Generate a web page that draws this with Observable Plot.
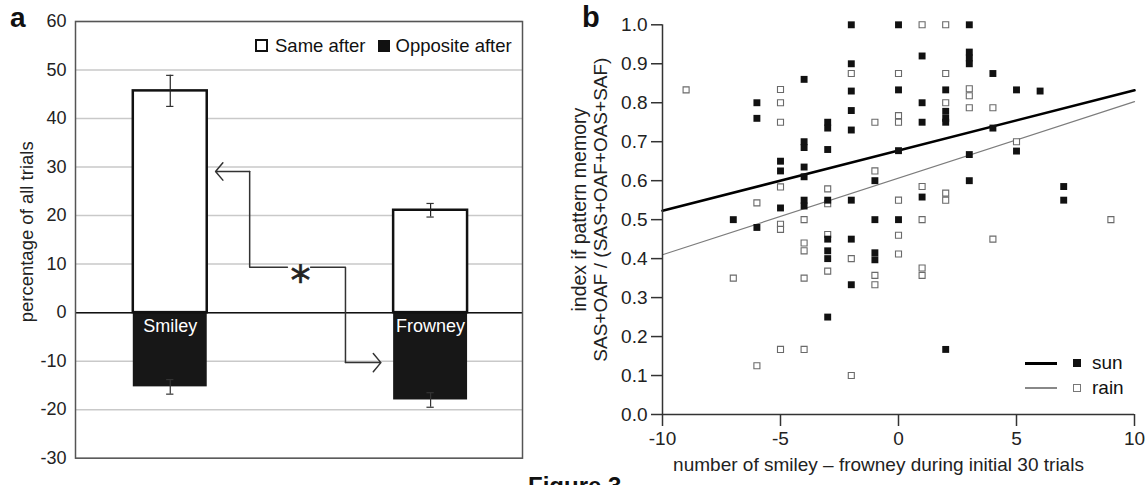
<!DOCTYPE html>
<html><head><meta charset="utf-8">
<script src="https://cdn.jsdelivr.net/npm/d3@7"></script>
<script src="https://cdn.jsdelivr.net/npm/@observablehq/plot@0.6"></script>
<style>
body{margin:0;background:#fff;font-family:"Liberation Sans",Arial,sans-serif;color:#222;}
#wrap{position:relative;width:1148px;height:485px;overflow:hidden;background:#fff;}
</style></head><body><div id="wrap"></div>
<script>
// ---------- Panel a data ----------
const categories = ["Smiley", "Frowney"];
const sameAfter = [45.7, 21.1];
const sameErr = [3.2, 1.4];
const oppositeAfter = [-15.3, -18.0];
const oppositeErr = [1.5, 1.5];
const yTicksA = [-30, -20, -10, 0, 10, 20, 30, 40, 50, 60];
const legendA = ["Same after", "Opposite after"];
const yLabelA = "percentage of all trials";
// significance bracket (x in category-index units, y in %)
const bracketLeft = [[0.305, 29.1], [0.305, 9.35], [0.45, 9.35]];
const bracketRight = [[0.539, 9.35], [0.673, 9.35], [0.673, -10.3]];
const arrowsA = [
  {x1: 0.305, y1: 29.1, x2: 0.174, y2: 29.1},
  {x1: 0.673, y1: -10.3, x2: 0.809, y2: -10.3}
];
const starA = [{x: 0.5, y: 8.5, t: "*"}];

// ---------- Panel b data ----------
const sunX = [-7,
  -6, -6, -6,
  -5, -5, -5,
  -4, -4, -4, -4, -4, -4, -4,
  -3, -3, -3, -3, -3, -3, -3, -3,
  -2, -2, -2, -2, -2, -2, -2, -2,
  -1, -1, -1, -1,
  0, 0, 0, 0,
  1, 1, 1, 1,
  2, 2, 2, 2, 2,
  3, 3, 3, 3, 3, 3,
  4, 4,
  5, 5,
  6,
  7, 7];
const sunY = [0.50,
  0.80, 0.76, 0.48,
  0.65, 0.625, 0.53,
  0.86, 0.70, 0.685, 0.635, 0.61, 0.55, 0.535,
  0.75, 0.735, 0.68, 0.55, 0.45, 0.42, 0.40, 0.25,
  1.00, 0.90, 0.83, 0.78, 0.73, 0.55, 0.45, 0.333,
  0.60, 0.50, 0.415, 0.397,
  1.00, 0.833, 0.677, 0.50,
  0.92, 0.80, 0.75, 0.558,
  0.833, 0.778, 0.76, 0.75, 0.167,
  1.00, 0.93, 0.915, 0.90, 0.667, 0.60,
  0.875, 0.735,
  0.833, 0.676,
  0.83,
  0.585, 0.55];
const rainX = [-9,
  -7,
  -6, -6,
  -5, -5, -5, -5, -5, -5, -5,
  -4, -4, -4, -4, -4,
  -3, -3, -3, -3,
  -2, -2, -2,
  -1, -1, -1, -1,
  0, 0, 0, 0, 0, 0,
  1, 1, 1, 1, 1,
  2, 2, 2, 2, 2,
  3, 3, 3,
  4, 4,
  5,
  9];
const rainY = [0.833,
  0.35,
  0.543, 0.125,
  0.834, 0.80, 0.75, 0.584, 0.488, 0.475, 0.167,
  0.50, 0.44, 0.42, 0.35, 0.167,
  0.579, 0.541, 0.462, 0.368,
  0.875, 0.40, 0.10,
  0.75, 0.625, 0.357, 0.333,
  0.875, 0.767, 0.75, 0.55, 0.46, 0.412,
  1.00, 0.585, 0.50, 0.376, 0.357,
  1.00, 0.875, 0.80, 0.568, 0.55,
  0.836, 0.818, 0.787,
  0.787, 0.45,
  0.70,
  0.50];
const fitX = [-10, 10];
const sunFit = [0.523, 0.832];
const rainFit = [0.41, 0.803];
const xTicksB = [-10, -5, 0, 5, 10];
const yTicksB = [0, 0.1, 0.2, 0.3, 0.4, 0.5, 0.6, 0.7, 0.8, 0.9, 1.0];
const seriesB = ["sun", "rain"];
const xLabelB = "number of smiley \u2013 frowney during initial 30 trials";
const yLabelB1 = "index if pattern memory";
const yLabelB2 = "SAS+OAF / (SAS+OAF+OAS+SAF)";

const FONT = "'Liberation Sans', Arial, sans-serif";
const wrap = document.getElementById("wrap");
const hyphenFmt = d => String(d);

// ---------- Panel a ----------
const tableA = categories.map((name, i) => ({
  name, i, same: sameAfter[i], sErr: sameErr[i], opp: oppositeAfter[i], oErr: oppositeErr[i]
}));
const half = 0.142, cap = 0.014;
const capsA = tableA.flatMap(d => [
  {i: d.i, y: d.same + d.sErr}, {i: d.i, y: d.same - d.sErr},
  {i: d.i, y: d.opp + d.oErr}, {i: d.i, y: d.opp - d.oErr}
]);

const plotA = Plot.plot({
  width: 530, height: 485,
  marginLeft: 75, marginRight: 8, marginTop: 21, marginBottom: 27.3,
  style: {fontFamily: FONT, color: "#222", background: "transparent", overflow: "visible"},
  x: {domain: [-0.364, 1.353], axis: null},
  y: {domain: [-30, 60], axis: null},
  marks: [
    Plot.ruleY(yTicksA, {stroke: "#c9c9c9", strokeWidth: 1.5}),
    Plot.rectY(tableA, {x1: d => d.i - half, x2: d => d.i + half, y1: 0, y2: "opp", fill: "#171717"}),
    Plot.rectY(tableA, {x1: d => d.i - half, x2: d => d.i + half, y1: 0, y2: "same", fill: "white", stroke: "#111", strokeWidth: 2.5}),
    Plot.ruleY([0], {stroke: "#111", strokeWidth: 1.5}),
    Plot.ruleX(tableA, {x: "i", y1: d => d.same - d.sErr, y2: d => d.same + d.sErr, stroke: "#222", strokeWidth: 1.2}),
    Plot.ruleX(tableA, {x: "i", y1: d => d.opp - d.oErr, y2: d => d.opp + d.oErr, stroke: "#333", strokeWidth: 1.2}),
    Plot.ruleY(capsA, {y: "y", x1: d => d.i - cap, x2: d => d.i + cap, stroke: "#333", strokeWidth: 1.2}),
    Plot.text(tableA, {x: "i", y: 0, text: "name", fill: "white", dy: 14, fontSize: 18}),
    Plot.line(bracketLeft, {x: d => d[0], y: d => d[1], stroke: "#333", strokeWidth: 1.5}),
    Plot.line(bracketRight, {x: d => d[0], y: d => d[1], stroke: "#333", strokeWidth: 1.5}),
    Plot.arrow(arrowsA, {x1: "x1", y1: "y1", x2: "x2", y2: "y2", stroke: "#333", strokeWidth: 1.5, headAngle: 100, headLength: 13}),
    Plot.text(starA, {x: "x", y: "y", text: "t", fontSize: 40, fontFamily: "'DejaVu Sans'", fill: "#222", stroke: "#222", strokeWidth: 0.6, dy: 11}),
    Plot.frame({stroke: "#555", strokeWidth: 1.5}),
    Plot.axisY(yTicksA, {tickSize: 0, tickPadding: 9, fontSize: 18, label: null, fill: "#222", tickFormat: hyphenFmt}),
    Plot.text([yLabelA], {frameAnchor: "left", textAnchor: "middle", rotate: -90, dx: -48, dy: -8, fontSize: 18.5, fill: "#222"})
  ]
});
plotA.style.position = "absolute"; plotA.style.left = "0px"; plotA.style.top = "0px";
wrap.appendChild(plotA);

// ---------- Panel b ----------
const sunPts = sunX.map((x, i) => ({x, y: sunY[i], s: seriesB[0]}));
const rainPts = rainX.map((x, i) => ({x, y: rainY[i], s: seriesB[1]}));
const sunLine = fitX.map((x, i) => ({x, y: sunFit[i]}));
const rainLine = fitX.map((x, i) => ({x, y: rainFit[i]}));

const plotB = Plot.plot({
  width: 588, height: 485,
  marginLeft: 102, marginRight: 14, marginTop: 24.3, marginBottom: 71,
  style: {fontFamily: FONT, color: "#222", background: "transparent", overflow: "visible"},
  x: {domain: [-10, 10], axis: null},
  y: {domain: [0, 1], axis: null},
  marks: [
    Plot.line(rainLine, {x: "x", y: "y", stroke: "#7c7c7c", strokeWidth: 1.2}),
    Plot.line(sunLine, {x: "x", y: "y", stroke: "#000", strokeWidth: 2.6}),
    Plot.dot(rainPts, {x: "x", y: "y", symbol: "square", r: 3.4, fill: "white", stroke: "#6a6a6a", strokeWidth: 1.1}),
    Plot.dot(sunPts, {x: "x", y: "y", symbol: "square", r: 3.9, fill: "#111", stroke: "none"}),
    Plot.ruleX([-10], {stroke: "#333", strokeWidth: 1.5}),
    Plot.ruleY([0], {stroke: "#333", strokeWidth: 1.5}),
    Plot.axisY(yTicksB, {tickSize: 11, tickPadding: 4, fontSize: 19, tickFormat: d3.format(".1f"), label: null, strokeWidth: 1.5, stroke: "#333", fill: "#222"}),
    Plot.axisX(xTicksB, {tickSize: 12, tickPadding: 5, fontSize: 19, label: null, strokeWidth: 1.5, stroke: "#333", fill: "#222", tickFormat: hyphenFmt}),
    Plot.text([xLabelB], {frameAnchor: "bottom", textAnchor: "middle", dy: 56, dx: -20, fontSize: 19, fill: "#222"}),
    Plot.text([yLabelB1], {frameAnchor: "left", textAnchor: "middle", rotate: -90, dx: -83, dy: -10, fontSize: 19.5, fill: "#222"}),
    Plot.text([yLabelB2], {frameAnchor: "left", textAnchor: "middle", rotate: -90, dx: -62, dy: -10, fontSize: 19, fill: "#222"})
  ]
});
plotB.style.position = "absolute"; plotB.style.left = "560px"; plotB.style.top = "0px";
wrap.appendChild(plotB);

// ---------- HTML text: panel letters, legends, caption ----------
function addDiv(html, css) {
  const d = document.createElement("div");
  d.innerHTML = html;
  d.style.cssText = css;
  wrap.appendChild(d);
  return d;
}
addDiv("a", "position:absolute;left:10px;top:4px;font-size:28px;font-weight:bold;line-height:28px;color:#111;");
addDiv("b", "position:absolute;left:582px;top:3px;font-size:29px;font-weight:bold;line-height:29px;color:#111;");
addDiv("Figure 3", "position:absolute;left:528px;top:474px;font-size:24px;font-weight:bold;line-height:24px;color:#111;");

// Legend a
addDiv(
  `<span style="display:inline-block;width:13px;height:13px;box-sizing:border-box;border:2px solid #111;background:#fff;margin-right:7px"></span>` +
  `<span>${legendA[0]}</span>` +
  `<span style="display:inline-block;width:12px;height:12px;background:#111;margin-left:12px;margin-right:6px"></span>` +
  `<span>${legendA[1]}</span>`,
  "position:absolute;left:255px;top:35px;height:21px;display:flex;align-items:center;font-size:18.5px;white-space:nowrap;color:#111;"
);

// Legend b
const legB = [
  {label: seriesB[0], line: "height:3px;background:#000;", sq: "background:#111;", top: 353},
  {label: seriesB[1], line: "height:1.3px;background:#888;", sq: "box-sizing:border-box;border:1px solid #777;background:#fff;", top: 378}
];
legB.forEach(l => {
  addDiv(
    `<span style="display:inline-block;width:32px;${l.line}margin-right:16px"></span>` +
    `<span style="display:inline-block;width:8px;height:8px;${l.sq}margin-right:11px"></span>` +
    `<span>${l.label}</span>`,
    `position:absolute;left:1025px;top:${l.top}px;height:20px;display:flex;align-items:center;font-size:19px;white-space:nowrap;color:#111;`
  );
});
</script></body></html>
